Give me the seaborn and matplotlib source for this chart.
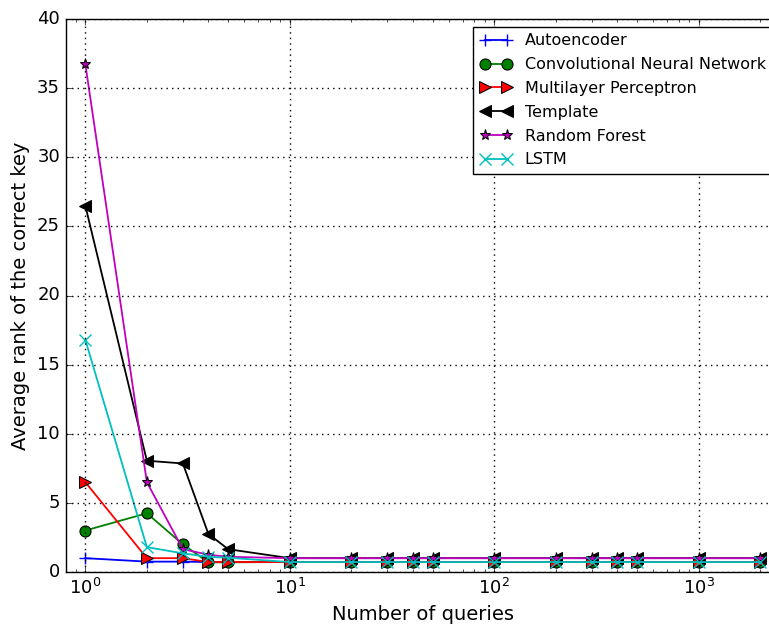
import matplotlib
matplotlib.use("Agg")
import matplotlib.pyplot as plt
import seaborn as sns
import numpy as np

plt.style.use("classic")
plt.rcParams["mathtext.fontset"] = "dejavusans"
plt.rcParams["font.family"] = ["DejaVu Sans"]

queries = [1, 2, 3, 4, 5, 10, 20, 30, 40, 50, 100, 200, 300, 400, 500, 1000, 2000]
autoencoder = [1.0, 0.75, 0.75, 0.72, 0.72, 0.72, 0.72, 0.72, 0.72, 0.72, 0.72, 0.72, 0.72, 0.72, 0.72, 0.72, 0.72]
cnn = [3.0, 4.25, 2.0, 0.7, 0.7, 0.72, 0.72, 0.72, 0.72, 0.72, 0.72, 0.72, 0.72, 0.72, 0.72, 0.72, 0.72]
mlp = [6.5, 1.0, 1.0, 0.72, 0.72, 0.72, 0.72, 0.72, 0.72, 0.72, 0.72, 0.72, 0.72, 0.72, 0.72, 0.72, 0.72]
template = [26.5, 8.05, 7.85, 2.75, 1.65, 1.0, 1.0, 1.0, 1.0, 1.0, 1.0, 1.0, 1.0, 1.0, 1.0, 1.0, 1.0]
random_forest = [36.75, 6.5, 1.65, 1.25, 1.1, 1.0, 1.0, 1.0, 1.0, 1.0, 1.0, 1.0, 1.0, 1.0, 1.0, 1.0, 1.0]
lstm = [16.8, 1.8, 1.35, 1.1, 1.03, 0.72, 0.72, 0.72, 0.72, 0.72, 0.72, 0.72, 0.72, 0.72, 0.72, 0.72, 0.72]

labels = ["Autoencoder", "Convolutional Neural Network", "Multilayer Perceptron",
          "Template", "Random Forest", "LSTM"]
series = [autoencoder, cnn, mlp, template, random_forest, lstm]
colors = ["b", "g", "r", "k", "m", "c"]
markers = ["+", "o", ">", "<", "*", "x"]

W, H = 769, 627
fig = plt.figure(figsize=(W / 100, H / 100), dpi=100)
fig.patch.set_facecolor("white")
left, right, top, bottom = 65.5, 780, 19, 572
ax = fig.add_axes([left / W, (H - bottom) / H, (right - left) / W, (bottom - top) / H])

for lab, ys, c, m in zip(labels, series, colors, markers):
    unfilled = m in ("+", "x")
    sns.lineplot(x=queries, y=ys, ax=ax, color=c, marker=m, label=lab,
                 markersize=8 if not unfilled else 9,
                 markeredgecolor=c if unfilled else "k",
                 markeredgewidth=1.0 if unfilled else 0.75,
                 linewidth=1.3, sort=False)

ax.set_xscale("log")
ax.set_xlim(0.8, 2500)
ax.set_ylim(0, 40)
ax.set_yticks(np.arange(0, 41, 5))
ax.grid(True, which="major", color="k", linestyle=":", linewidth=1.0)
ax.tick_params(labelsize=13)
ax.set_xlabel("Number of queries", fontsize=14)
ax.set_ylabel("Average rank of the correct key", fontsize=14)
leg = ax.legend(loc="upper right", fontsize=11.5, numpoints=2, fancybox=False,
                frameon=True, borderaxespad=0.5, labelspacing=0.55)
leg.get_frame().set_edgecolor("k")

fig.savefig("out.png", dpi=100, facecolor="white")
